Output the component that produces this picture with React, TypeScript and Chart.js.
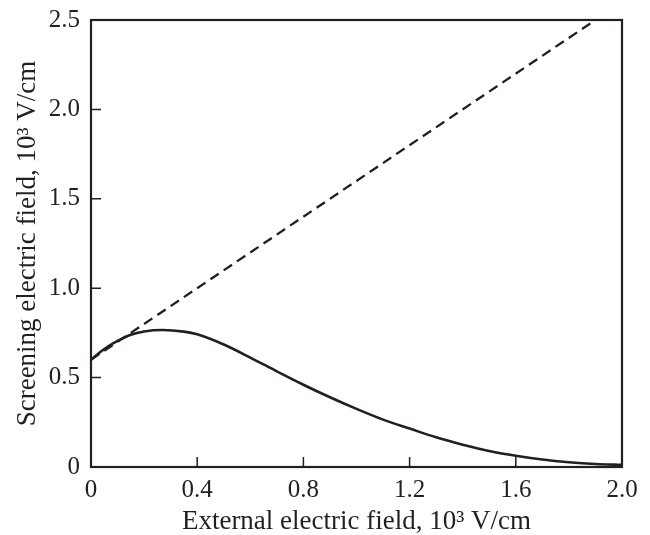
import React, { useEffect, useRef } from "react";
import { Chart, registerables } from "chart.js";

Chart.register(...registerables);

const solidX = [0, 0.05, 0.1, 0.15, 0.2, 0.27, 0.35, 0.4, 0.5, 0.6, 0.7, 0.8, 0.9, 1.0, 1.1, 1.2, 1.3, 1.4, 1.5, 1.6, 1.7, 1.8, 1.9, 2.0];
const solidY = [0.6, 0.66, 0.705, 0.74, 0.758, 0.766, 0.757, 0.742, 0.685, 0.612, 0.535, 0.46, 0.39, 0.325, 0.265, 0.215, 0.166, 0.125, 0.09, 0.063, 0.042, 0.027, 0.017, 0.012];
const dashX = [0, 1.9];
const dashY = [0.6, 2.5];
const xTicks = [0, 0.4, 0.8, 1.2, 1.6, 2.0];
const yTicks = [0, 0.5, 1.0, 1.5, 2.0, 2.5];

const FONT = "'Liberation Serif', 'Times New Roman', serif";
const INK = "#231f20";

const innerTicks = {
  id: "innerTicks",
  afterDraw(chart: any) {
    const { ctx, chartArea: a, scales } = chart;
    ctx.save();
    ctx.strokeStyle = INK;
    ctx.lineWidth = 1.5;
    ctx.beginPath();
    for (const v of xTicks) {
      const px = scales.x.getPixelForValue(v);
      ctx.moveTo(px, a.bottom);
      ctx.lineTo(px, a.bottom - 10);
    }
    for (const v of yTicks) {
      const py = scales.y.getPixelForValue(v);
      ctx.moveTo(a.left, py);
      ctx.lineTo(a.left + 10, py);
    }
    ctx.stroke();
    ctx.lineWidth = 2.2;
    ctx.strokeRect(a.left, a.top, a.right - a.left, a.bottom - a.top);
    ctx.restore();
  },
};

export default function App() {
  const ref = useRef<HTMLCanvasElement>(null);
  useEffect(() => {
    document.body.style.margin = "0";
    const chart = new Chart(ref.current!, {
      type: "scatter",
      data: {
        datasets: [
          {
            data: solidX.map((x, i) => ({ x, y: solidY[i] })),
            showLine: true,
            borderColor: INK,
            borderWidth: 2.6,
            pointRadius: 0,
            tension: 0.4,
            cubicInterpolationMode: "monotone",
          },
          {
            data: dashX.map((x, i) => ({ x, y: dashY[i] })),
            showLine: true,
            borderColor: INK,
            borderWidth: 2.3,
            borderDash: [10, 6],
            pointRadius: 0,
          },
        ],
      },
      options: {
        animation: false,
        responsive: true,
        maintainAspectRatio: false,
        layout: { padding: { left: 0, right: 28, top: 20, bottom: 0 } },
        plugins: { legend: { display: false }, tooltip: { enabled: false } },
        scales: {
          x: {
            type: "linear",
            min: 0,
            max: 2,
            afterBuildTicks: (s: any) => {
              s.ticks = xTicks.map((v) => ({ value: v }));
            },
            afterFit: (s: any) => {
              s.height = 68;
              s.paddingLeft = 0;
              s.paddingRight = 0;
              s.paddingTop = 0;
              s.paddingBottom = 0;
            },
            grid: { drawOnChartArea: false, drawTicks: false },
            border: { display: false },
            ticks: {
              padding: 8,
              color: INK,
              font: { family: FONT, size: 25 },
              maxRotation: 0,
              callback: (v: any) => (v === 0 ? "0" : Number(v).toFixed(1)),
            },
            title: {
              display: true,
              text: "External electric field, 10³ V/cm",
              color: INK,
              font: { family: FONT, size: 27, lineHeight: 1.0 },
              padding: { top: 0, bottom: 0 },
            },
          },
          y: {
            type: "linear",
            min: 0,
            max: 2.5,
            afterBuildTicks: (s: any) => {
              s.ticks = yTicks.map((v) => ({ value: v }));
            },
            afterFit: (s: any) => {
              s.width = 91;
              s.paddingLeft = 0;
              s.paddingRight = 0;
              s.paddingTop = 0;
              s.paddingBottom = 0;
            },
            grid: { drawOnChartArea: false, drawTicks: false },
            border: { display: false },
            ticks: {
              padding: 11,
              color: INK,
              font: { family: FONT, size: 25 },
              callback: (v: any) => (v === 0 ? "0" : Number(v).toFixed(1)),
            },
            title: {
              display: true,
              text: "Screening electric field, 10³ V/cm",
              color: INK,
              font: { family: FONT, size: 27 },
              padding: { top: 12, bottom: 0 },
            },
          },
        },
      },
      plugins: [innerTicks],
    } as any);
    return () => chart.destroy();
  }, []);
  return (
    <div style={{ position: "relative", width: 650, height: 535, background: "#fff" }}>
      <canvas ref={ref} />
    </div>
  );
}
